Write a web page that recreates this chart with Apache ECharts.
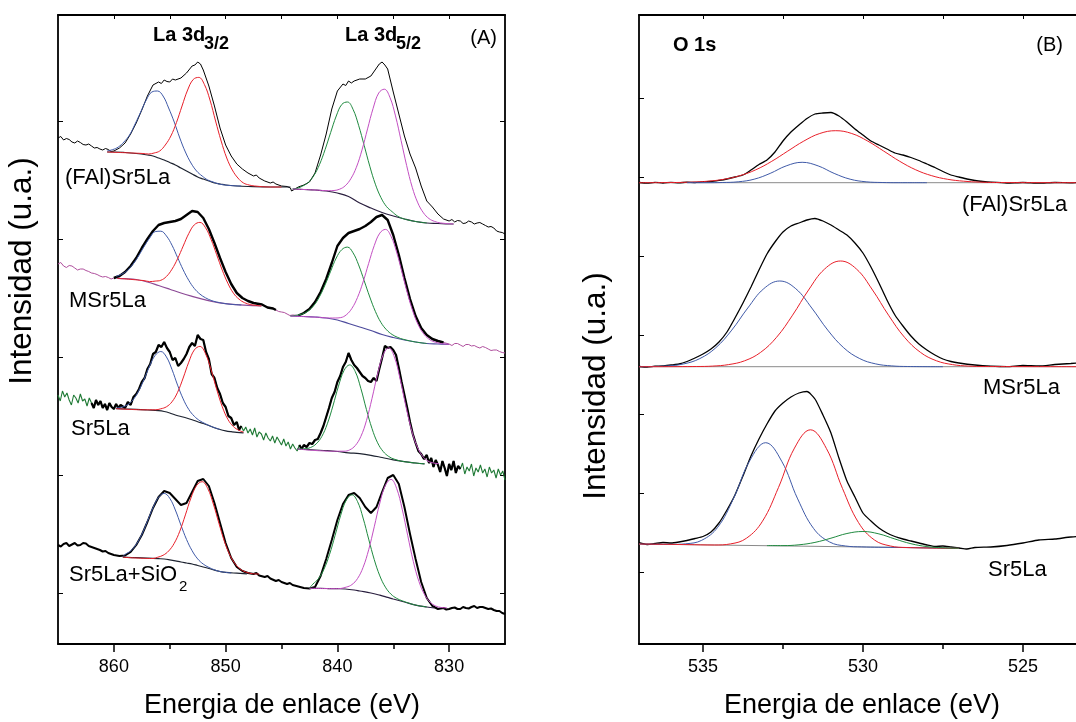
<!DOCTYPE html>
<html><head><meta charset="utf-8">
<script src="https://cdn.jsdelivr.net/npm/echarts@6/dist/echarts.min.js"></script>
<style>html,body{margin:0;padding:0;background:#fff}#c{width:1076px;height:722px}</style>
</head><body><div id="c"></div>
<script>
// ---------- ticks & labels ----------
const tickA_major = [830, 840, 850, 860];
const tickA_minor = [835, 845, 855];
const tickA_all = [830, 835, 840, 845, 850, 855, 860];
const tickB_major = [535, 530, 525];
const tickB_minor = [532.5, 527.5];
const tickB_all = [535, 532.5, 530, 527.5, 525];
const labelsA = ['(FAl)Sr5La', 'MSr5La', 'Sr5La', 'Sr5La+SiO'];
const labelsB = ['(FAl)Sr5La', 'MSr5La', 'Sr5La'];

// ---------- Panel A : La 3d ----------
// (FAl)Sr5La
const fal_raw = [[865,506],[864.75,507.5],[864.5,504],[864.25,505.5],[864,504.5],[863.75,502],[863.5,501],[863.25,503],[863,501.5],[862.75,499.5],[862.5,499],[862.25,500],[862,498],[861.75,496],[861.5,496.5],[861.25,495],[861,494],[860.75,495.5],[860.5,494.5],[860.25,492.5],[860,493],[859.5,496],[859,501],[858.5,510],[858,521],[857.5,534],[857,548],[856.5,559],[856,562],[855.75,560.5],[855.5,564],[855.25,562.5],[855,562],[854.75,565],[854.5,564],[854,566],[853.5,571],[853,578],[852.75,579],[852.5,582],[852.25,580],[852,574],[851.5,558],[851,538],[850.5,516],[850,499],[849.5,488],[849,480],[848.5,475],[848,471],[847.5,468],[847.25,469],[847,466],[846.5,463],[846,461],[845.75,462],[845.5,460],[845,458],[844.5,457.5],[844.2,456],[844.1,453],[843.5,457],[843,459],[842.5,462],[842,471],[841.5,489],[841,510],[840.5,535],[840,553],[839.5,560],[839.25,558.5],[839,563],[838.75,561],[838.5,563],[838,565],[837.5,565],[837,568],[836.5,576],[836.25,580],[836,582],[835.75,579],[835.5,575],[835,552],[834.5,530],[834,508],[833.5,490],[833,476],[832.5,458],[832,443],[831.5,437],[831,430],[830.5,425],[830,423],[829.75,424.5],[829.5,422],[829.25,423.5],[829,423],[828.75,420.5],[828.5,421],[828.25,423],[828,422],[827.75,420],[827.5,421],[827.25,421.5],[827,420],[826.75,418.5],[826.5,417],[826.25,417.5],[826,416],[825.75,413],[825.5,412],[825.25,411.5],[825,410]];
const fal_bg1 = [[860.6,492],[860,492],[859,491.5],[858,490.5],[857,489],[856.5,488],[856,486],[855.5,484],[855,481.5],[854.5,479],[854,476],[853.5,473],[853,470],[852.5,467],[852,465],[851.5,463],[851,461],[850.5,460],[850,459],[849,458],[848,457.5],[846,457],[844.2,457]];
const fal_bg2 = [[844,455],[843,454.5],[842,454],[841,453],[840,451],[839,447.5],[838,441],[837,436],[836,431.5],[835,428],[834,425],[833,422.5],[832,421],[831,420.5],[830,420],[829.6,420]];
const fal_blue = [[860.6,493],[860.1,494.4],[859.6,497],[859.1,502],[858.6,509],[858.1,520],[857.6,532],[857.1,544],[856.6,552],[856.1,553],[855.6,548],[855.1,536],[854.6,522],[854.1,506],[853.6,492],[853.1,481],[852.6,473],[852.1,468],[851.6,464],[851.1,462],[850.6,460],[849.6,458.5],[848.6,458]];
const fal_red = [[860.6,492],[858.4,491],[857.4,490.5],[856.9,490],[856.4,491],[855.9,493],[855.4,499],[854.9,508],[854.4,521.5],[853.9,538],[853.4,554],[852.9,564.5],[852.4,566.6],[851.9,559.5],[851.4,544],[850.9,523],[850.4,503],[849.9,486],[849.4,474],[848.9,466],[848.4,461],[847.9,459],[847.4,458],[846,457],[845,457]];
const fal_green = [[844,455],[843.6,455.7],[843.1,458],[842.6,461.6],[842.1,468.5],[841.6,479.4],[841.1,494.4],[840.6,511.5],[840.1,528],[839.6,539.6],[839.1,542],[838.6,534.7],[838.1,518.7],[837.6,498.5],[837.1,477.8],[836.6,459.8],[836.1,446.4],[835.6,437.4],[835.1,432.3],[834.6,427.8],[834.1,425.3],[833.1,422.7],[832,421]];
const fal_mag = [[844,455],[842,454],[840.8,453.3],[840.3,453.5],[839.8,454.8],[839.3,458.2],[838.8,465.2],[838.3,476.7],[837.8,493.9],[837.3,515.1],[836.8,535.7],[836.3,551],[835.8,554.8],[835.3,546.7],[834.8,528.1],[834.3,503.5],[833.8,478.4],[833.3,456.7],[832.8,441.1],[832.3,431.2],[831.8,425.4],[831.3,422.6],[830.8,421.1],[829.6,420]];

// MSr5La
const ms_raw = [[865,380],[864.75,381.5],[864.5,378],[864.25,376.5],[864,378.5],[863.75,378],[863.5,376],[863.25,374],[863,375],[862.75,375],[862.5,373.5],[862.25,372.5],[862,371],[861.75,370.5],[861.5,369.5],[861.25,368],[861,367],[860.75,367.5],[860.5,366.5],[860.25,365],[860,366],[859.5,368],[859,372],[858.5,378],[858,386],[857.5,396],[857,405],[856.5,413],[856,419],[855.5,421],[855,422],[854.5,423],[854,425],[853.5,429],[853,433],[852.5,432],[852,426],[851.5,415],[851,401],[850.5,386],[850,372],[849.5,360],[849,351],[848.5,346],[848,343],[847.5,341],[847,340],[846.75,339.5],[846.5,338],[846.25,336.5],[846,336],[845.75,335.5],[845.5,334],[845.25,332.5],[845,332],[844.75,331.5],[844.5,330],[844.25,328.5],[844,329],[843.5,328.5],[843,331],[842.5,335],[842,342],[841.5,352],[841,365],[840.5,381],[840,398],[839.5,406],[839,411],[838.5,413],[838,415],[837.5,418],[837,422],[836.5,427],[836,429],[835.5,424],[835,409],[834.5,389],[834,366],[833.5,345],[833,328],[832.5,316],[832,309],[831.5,305],[831,303],[830.5,301.5],[830,300],[829.75,298.5],[829.5,300.5],[829.25,300.5],[829,299],[828.75,297.5],[828.5,299.5],[828.25,299.5],[828,298],[827.75,298.5],[827.5,297],[827.25,296],[827,297.5],[826.75,296.5],[826.5,295],[826.25,293.5],[826,294],[825.75,294],[825.5,292.5],[825.25,291.5],[825,291]];
const ms_bg1 = [[859.7,365.7],[859,365.3],[858,364.5],[857,362],[856,358.5],[855,354.8],[854,351],[853,347.7],[852,344.7],[851,342],[850,340.3],[849,339.3],[848,338.7],[846.8,338]];
const ms_bg2 = [[844.2,328],[843,327.5],[842,327],[841,326],[840,324],[839,320.5],[838,317],[837,313.5],[836,309.5],[835,306.5],[834,304],[833,302],[832,300.5],[831,300],[830,299.5]];
const ms_blue = [[859.8,367.7],[859.3,369.8],[858.8,373.5],[858.3,379.7],[857.8,387.9],[857.3,397.4],[856.8,406],[856.3,412.4],[855.8,412.8],[855.3,408.1],[854.8,398.8],[854.3,386.5],[853.8,374.2],[853.3,363.7],[852.8,355.5],[852.3,349.9],[851.8,346.2],[851.3,343.6],[850.8,342],[849.8,340],[848.6,339]];
const ms_red = [[859.7,365.7],[857.3,363.4],[856.8,362.4],[856.3,362.9],[855.8,363.7],[855.3,367.5],[854.8,374.8],[854.3,385.2],[853.8,397.9],[853.3,410.4],[852.8,419.2],[852.3,421.6],[851.8,416.3],[851.3,404.5],[850.8,389.3],[850.3,373.9],[849.8,360.7],[849.3,350.8],[848.8,344.8],[848.3,341.3],[847.8,339.5],[847.3,338.6],[846.8,338]];
const ms_green = [[844.2,328],[843.6,328.9],[843.1,330.2],[842.6,333.2],[842.1,338.6],[841.6,347.3],[841.1,359.2],[840.6,372.8],[840.1,386],[839.6,394.4],[839.1,396.9],[838.6,391.2],[838.1,379.1],[837.6,363.2],[837.1,347],[836.6,332.6],[836.1,321.5],[835.6,314.2],[835.1,309.5],[834.6,306.6],[834.1,304.7],[833,302],[832,300.5]];
const ms_mag = [[844.2,328],[841.7,326.7],[840.7,326],[840.2,326],[839.7,326.4],[839.2,329.2],[838.7,335.6],[838.2,346.5],[837.7,362],[837.2,380.6],[836.7,398.4],[836.2,410.9],[835.7,414.6],[835.2,407.7],[834.7,391.9],[834.2,370.9],[833.7,349.5],[833.2,331.2],[832.7,317.7],[832.2,309.1],[831.7,304.1],[831.2,301.7],[830.7,300.4],[830,299.5]];

// Sr5La
const sr_raw = [[865,249],[864.8,243],[864.6,253],[864.4,247],[864.2,251],[864,244],[863.8,239],[863.6,249],[863.4,246],[863.2,241],[863,250],[862.8,243],[862.6,245],[862.4,238],[862.2,246],[862,241],[861.8,236],[861.6,244],[861.4,239],[861.2,243],[861,236],[860.8,240],[860.6,234],[860.4,241],[860.2,237],[860,235],[859.8,240],[859.6,236],[859.4,239],[859.25,238],[859,236],[858.75,242],[858.5,239],[858.25,247],[858,250],[857.75,255],[857.5,262],[857.25,266],[857,275],[856.75,280],[856.5,290],[856.25,292],[856,299],[855.75,297],[855.5,302],[855.25,296],[855,292],[854.75,284],[854.5,286],[854.25,278],[854,281],[853.75,285],[853.5,290],[853.25,297],[853,301],[852.75,298],[852.5,309],[852.25,305],[852,304],[851.75,292],[851.5,285],[851.25,270],[851,266],[850.75,256],[850.5,250],[850.25,241],[850,237],[849.75,228],[849.5,226],[849.25,219],[849,222],[848.8,214],[848.6,218],[848.4,213],[848.2,217],[848,211],[847.8,215],[847.6,209],[847.4,216],[847.2,207],[847,212],[846.8,210],[846.6,204],[846.4,211],[846.2,206],[846,203],[845.8,208],[845.6,201],[845.4,207],[845.2,203],[845,199],[844.8,205],[844.6,198],[844.4,202],[844.2,195],[844,200],[843.8,196],[843.6,193],[843.4,199],[843.2,195],[843,199],[842.75,197],[842.5,201],[842.25,200],[842,204],[841.75,205],[841.5,211],[841.25,218],[841,227],[840.75,236],[840.5,246],[840.25,252],[840,262],[839.75,268],[839.5,277],[839.25,282],[839,291],[838.75,284],[838.5,279],[838.25,276],[838,272],[837.75,268],[837.5,266],[837.25,263],[837,262],[836.75,266],[836.5,263],[836.25,275],[836,286],[835.75,298],[835.5,296],[835.25,297],[835,294],[834.75,289],[834.5,276],[834.25,262],[834,249],[833.75,236],[833.5,222],[833.25,210],[833,201],[832.75,193],[832.5,190],[832.25,185],[832,189],[831.8,181],[831.6,186],[831.4,177],[831.2,184],[831,179],[830.8,172],[830.6,183],[830.4,176],[830.2,168],[830,180],[829.8,174],[829.6,183],[829.4,171],[829.2,178],[829,175],[828.8,181],[828.6,170],[828.4,177],[828.2,173],[828,180],[827.8,168],[827.6,176],[827.4,172],[827.2,179],[827,171],[826.8,175],[826.6,167],[826.4,177],[826.2,171],[826,174],[825.8,166],[825.6,175],[825.4,169],[825.2,173],[825,164]];
const sr_bg1 = [[859.8,235.4],[859,235],[858,234.6],[857,234],[856,233.3],[855.5,232.5],[855,231],[854.5,229],[854,227.5],[853.5,226],[853,224.3],[852.5,222.3],[852,220.5],[851.5,218.5],[851,216.3],[850.5,214.5],[850,213.2],[849.5,212.3],[849,211.6],[848.4,211.2]];
const sr_bg2 = [[843.6,195],[842,194],[840.9,193.3],[840,192.5],[839,191.2],[838,190.3],[837,188.7],[836,186.5],[835,184.2],[834,182.3],[833,181],[832.2,180.2]];
const sr_blue = [[859.8,235.9],[859.3,236.8],[858.8,239.1],[858.3,244],[857.8,252.7],[857.3,264.7],[856.8,278],[856.3,288.7],[855.8,292.5],[855.3,287.1],[854.8,274.5],[854.3,258.9],[853.8,245.1],[853.3,234.6],[852.8,227.7],[852.3,223.2],[851.8,220.2],[851.3,217.6],[850.5,214.5]];
const sr_red = [[859.8,235.4],[857.3,234.2],[856.3,234.2],[855.8,235.2],[855.3,237.2],[854.8,242.2],[854.3,251.7],[853.8,266],[853.3,281.8],[852.8,294.1],[852.3,297.6],[851.8,290.3],[851.3,274.1],[850.8,254.7],[850.3,237.3],[849.8,224.7],[849.3,217.4],[848.8,213.6],[848.4,211.9]];
const sr_green = [[843.6,195],[842.9,195.2],[842.4,196.5],[841.9,200.1],[841.4,207.4],[840.9,220.2],[840.4,238],[839.9,257.9],[839.4,273.6],[838.9,279.1],[838.4,272.4],[837.9,255.6],[837.4,234.5],[836.9,215.4],[836.4,201.2],[835.9,192.5],[835.4,187.5],[834.9,184.8],[834,182.3],[832.2,180.2]];
const sr_mag = [[843.6,195],[840.4,192.8],[839.4,192.8],[838.9,194.1],[838.4,198.4],[837.9,207.5],[837.4,223.3],[836.9,245.6],[836.4,270],[835.9,289.4],[835.4,296.1],[834.9,287.1],[834.4,265.7],[833.9,239.3],[833.4,215.5],[832.9,198.3],[832.4,188.2],[831.9,183],[831.4,181],[830.9,180.3]];

// Sr5La+SiO2
const si_raw = [[865,99],[864.75,97.5],[864.5,100],[864.25,101],[864,98],[863.75,99.5],[863.5,101],[863.25,98.5],[863,99],[862.75,101],[862.5,100.5],[862.25,98],[862,97],[861.75,96],[861.5,95],[861.25,94],[861,92.5],[860.75,93],[860.5,91],[860.25,90],[860,89],[859.5,88],[859,88.5],[858.5,92],[858,99],[857.5,109],[857,122],[856.5,136],[856,147],[855.5,153],[855,151],[854.5,145],[854,139],[853.5,141],[853,152],[852.5,163],[852,165],[851.5,158],[851,141],[850.5,121],[850,101],[849.5,86],[849,77],[848.5,73],[848,71],[847.5,70],[847.25,71],[847,68.5],[846.5,67],[846.25,68],[846,65.5],[845.5,63],[845.25,64],[845,62],[844.5,60],[844.25,61],[844,59],[843.5,57.5],[843,56],[842.5,55.5],[842,57],[841.5,68],[841,85],[840.5,104],[840,124],[839.5,140],[839,149],[838.5,151],[838,146],[837.5,137],[837,131],[836.5,137],[836,152],[835.5,166],[835,169],[834.5,160],[834,137],[833.5,110],[833,85],[832.5,62],[832,46],[831.5,38],[831,35],[830.5,36],[830.25,34.5],[830,35],[829.75,36],[829.5,36.5],[829.25,35],[829,35],[828.75,37],[828.5,36],[828.25,35.5],[828,37],[827.75,38],[827.5,36],[827.25,37],[827,37],[826.75,36],[826.5,35],[826.25,35.5],[826,34],[825.75,33],[825.5,33],[825.25,31],[825,30]];
const si_bg1 = [[859.2,86.8],[858,86.3],[857,85.8],[856,85.3],[855.5,85],[855,84.2],[854.5,83.2],[854,82],[853.5,81],[853,80],[852.5,78.5],[852,77],[851.5,75.5],[851,73.8],[850.5,72.5],[850,71.6],[849,70.8],[848.1,70.2]];
const si_bg2 = [[842.5,55.7],[841,55.5],[840,55.3],[839.3,55],[838.5,54],[838,53],[837,51],[836.2,48.8],[835.5,46.6],[835,45],[834,42],[833.1,39.2],[832,37],[831.3,36]];
const si_blue = [[859.2,87.5],[859,89.6],[858.5,93.1],[858,99.6],[857.5,109.6],[857,122.7],[856.5,136.3],[856,146.8],[855.5,150.6],[855,145.7],[854.5,134],[854,118.9],[853.5,104.6],[853,93.3],[852.5,85.1],[852,79.9],[851.5,76.6],[851,74.2],[850.5,72.5],[849.5,71]];
const si_red = [[859.2,86.8],[856.5,85.5],[856.1,86.7],[855.6,88.7],[855.1,93],[854.6,100.7],[854.1,112.8],[853.6,129.1],[853.1,146.1],[852.6,158.5],[852.1,162.3],[851.6,155.5],[851.1,140],[850.6,120.7],[850.1,102.3],[849.6,88.5],[849.1,79.5],[848.6,74.2],[848.1,71.6],[847.6,70.3],[847,70]];
const si_green = [[842.5,56],[842.2,59.8],[841.7,65.2],[841.2,74.8],[840.7,89.6],[840.2,108.8],[839.7,128.8],[839.2,144],[838.7,149.2],[838.2,142.5],[837.7,126],[837.2,104.9],[836.7,84.4],[836.2,68.1],[835.7,56.8],[835.2,49.8],[834.7,45.7],[834.2,43.2],[833.1,39.2],[832,37]];
const si_mag = [[842.5,55.7],[840,55.3],[839.2,56.9],[838.7,59.4],[838.2,65.4],[837.7,76.6],[837.2,94.2],[836.7,117.2],[836.2,141],[835.7,158.8],[835.2,164.6],[834.7,155.7],[834.2,134.8],[833.7,108.2],[833.2,82.3],[832.7,62.5],[832.2,49.4],[831.7,41.8],[831.2,38],[830.7,36.5],[830.2,36.2]];

// ---------- Panel B : O 1s ----------
const fb_raw = [[537,461.5],[536.75,460.8],[536.5,461.6],[536.25,461],[536,461.7],[535.75,461.2],[535.5,461.8],[535.25,461.5],[535,462.3],[534.75,462.5],[534.5,463.6],[534.25,465],[534,467],[533.75,469],[533.5,474],[533.25,479.5],[533,484],[532.75,492],[532.5,503],[532.25,512],[532,519],[531.75,525.5],[531.5,530],[531.25,531],[531,531.5],[530.75,528],[530.5,522],[530.25,515],[530,509],[529.75,503],[529.5,499],[529.25,495],[529,491],[528.75,489],[528.5,486.5],[528.25,483.5],[528,480],[527.75,476.5],[527.5,472.5],[527.25,469],[527,467],[526.75,465],[526.5,463.5],[526.25,462.5],[526,461.8],[525.5,461],[525,461.5],[524.5,460.8],[524,461.5],[523.5,461.2],[523,462],[522.5,461.5],[522,462]];
const fb_base = [[537,461.3],[522,461.3]];
const fb_red = [[537,461.3],[535.85,461.5],[535.35,461.9],[534.85,462.8],[534.35,464.7],[533.85,468.3],[533.35,474.2],[532.85,482.7],[532.35,492.9],[531.85,502.9],[531.35,510.5],[530.85,513.3],[530.35,510.5],[529.85,502.9],[529.35,492.9],[528.85,482.7],[528.35,474.2],[527.85,468.3],[527.35,464.7],[526.85,462.8],[526.35,461.9],[525.85,461.5],[522,461.3]];
const fb_blue = [[535.5,461.3],[534.9,461.3],[534.4,461.5],[533.9,462.2],[533.4,464.8],[532.9,470.6],[532.4,478.1],[531.9,481.7],[531.4,478.1],[530.9,470.6],[530.4,464.8],[529.9,462.2],[529.4,461.5],[528.9,461.3],[528,461.3]];

const mb_raw = [[537,277.5],[536.75,277],[536.5,277.8],[536.25,278],[536,279],[535.75,280],[535.5,282.5],[535.25,286],[535,290],[534.75,295],[534.5,302],[534.25,312],[534,326],[533.75,341],[533.5,357],[533.25,374],[533,390],[532.75,402],[532.5,412],[532.25,418],[532,421],[531.75,424],[531.5,425.5],[531.25,423],[531,419],[530.75,414],[530.5,409],[530.25,401],[530,391],[529.75,377],[529.5,361],[529.25,344],[529,329],[528.75,318],[528.5,308],[528.25,300],[528,294],[527.75,289],[527.5,285],[527.25,282.5],[527,281],[526.5,279],[526,277.8],[525.5,277.3],[525,278.5],[524.5,278],[524,279.5],[523.5,280.5],[523,281.5],[522.5,282],[522,282.5]];
const mb_base = [[537,277.3],[522,277.3]];
const mb_blue = [[537,277.3],[536.6,277.5],[536.1,278.1],[535.6,280.1],[535.1,285.4],[534.6,296.2],[534.1,313.9],[533.6,336],[533.1,355.3],[532.6,363],[532.1,355.3],[531.6,336],[531.1,313.9],[530.6,296.2],[530.1,285.4],[529.6,280.1],[529.1,278.1],[528.6,277.5],[527.5,277.3]];
const mb_red = [[537,277.3],[535.2,277.5],[534.7,277.9],[534.2,279.4],[533.7,283.2],[533.2,291.6],[532.7,306.7],[532.2,328.8],[531.7,354],[531.2,374.9],[530.7,383],[530.2,374.9],[529.7,354],[529.2,328.8],[528.7,306.7],[528.2,291.6],[527.7,283.2],[527.2,279.4],[526.7,277.9],[526.2,277.5],[522,277.3]];

const sb_raw = [[537,101.3],[536.75,99.5],[536.5,100.5],[536.25,101.5],[536,101],[535.75,102],[535.5,103.5],[535.25,105.5],[535,107.5],[534.75,112],[534.5,121],[534.25,134],[534,149],[533.75,168],[533.5,188],[533.25,205],[533,220],[532.75,233],[532.5,241],[532.25,247],[532,251],[531.75,252.5],[531.5,245],[531.25,229],[531,211],[530.75,186],[530.5,163],[530.25,147],[530,131],[529.75,123],[529.5,116],[529.25,111],[529,107.5],[528.75,105],[528.5,103],[528.25,101],[528,99],[527.75,97.5],[527.5,98],[527.25,97],[527,96],[526.75,95],[526.5,96.5],[526,97],[525.5,98.5],[525,101],[524.5,104],[524,105],[523.5,107],[523,108],[522.5,107.5],[522,108.5]];
const sb_base = [[537,100],[526.9,95.7]];
const sb_blue = [[537,100],[536,99.6],[535.54,100.2],[535.04,103.7],[534.54,116.7],[534.04,145.9],[533.54,183.2],[533.04,201.3],[532.54,182.8],[532.04,145.1],[531.54,115.4],[531.04,102],[530.54,98],[530.04,97.1],[529,96.6],[527,95.7]];
const sb_red = [[537,100],[535.5,99.4],[534.64,99],[534.14,100.1],[533.64,105.8],[533.14,122.8],[532.64,156.5],[532.14,195.9],[531.64,214.2],[531.14,195.4],[530.64,155.6],[530.14,121.5],[529.64,104],[529.14,98],[528.64,96.5],[527,95.7]];
const sb_green = [[533,98.4],[532.5,98.4],[532,99.2],[531.5,101.6],[531,105.8],[530.5,110.5],[530,112.5],[529.5,110.1],[529,105],[528.5,100.3],[528,97.4],[527.5,96.2],[527,95.7]];

// ---------- chart ----------
const FONT = '"Liberation Sans", Arial, sans-serif';
const BLUE = '#3f5aa8', RED = '#e8202a', GREEN = '#1f8a3f', MAG = '#c34fc3', BGC = '#1d2330';

function ln(data, color, width, xi, yi, smooth) {
  return { type: 'line', data: data, xAxisIndex: xi, yAxisIndex: yi, showSymbol: false, symbol: 'none',
    smooth: smooth || false,
    lineStyle: { color: color, width: width }, animation: false, silent: true, clip: true };
}
// fitted components and backgrounds: drawn as smooth curves
function fit(data, color, width, xi, yi) { return ln(data, color, width, xi, yi, 0.4); }
function part(data, hi, lo) { return data.filter(p => p[0] <= hi && p[0] >= lo); }

function xAxes(g, min, max, majors, minors, all) {
  const base = { gridIndex: g, type: 'value', min: min, max: max, inverse: true, splitLine: { show: false } };
  return [
    Object.assign({}, base, { position: 'bottom',
      axisLine: { show: true, onZero: false, lineStyle: { color: '#000', width: 1.8 } },
      axisTick: { show: true, inside: false, length: 8, lineStyle: { color: '#000', width: 1.5 }, customValues: majors },
      axisLabel: { show: true, customValues: majors, color: '#000', fontSize: 18, fontFamily: FONT, margin: 14 } }),
    Object.assign({}, base, { position: 'bottom',
      axisLine: { show: false },
      axisTick: { show: true, inside: false, length: 5, lineStyle: { color: '#000', width: 1.5 }, customValues: minors },
      axisLabel: { show: false } }),
    Object.assign({}, base, { position: 'top',
      axisLine: { show: true, onZero: false, lineStyle: { color: '#000', width: 1.8 } },
      axisTick: { show: true, inside: true, length: 4, lineStyle: { color: '#000', width: 1 }, customValues: all },
      axisLabel: { show: false } })
  ];
}
function yAxes(g, ticks, showRight) {
  const base = { gridIndex: g, type: 'value', min: 0, max: 629, splitLine: { show: false }, axisLabel: { show: false } };
  return [
    Object.assign({}, base, { position: 'left',
      axisLine: { show: true, onZero: false, lineStyle: { color: '#000', width: 1.8 } },
      axisTick: { show: true, inside: true, length: 5, lineStyle: { color: '#000', width: 1 }, customValues: ticks } }),
    Object.assign({}, base, { position: 'right',
      axisLine: { show: showRight, onZero: false, lineStyle: { color: '#000', width: 1.8 } },
      axisTick: { show: showRight, inside: true, length: 5, lineStyle: { color: '#000', width: 1 }, customValues: ticks } })
  ];
}

const series = [
  // A : (FAl)Sr5La
  ln(fal_raw, '#000', 1, 0, 0),
  fit(fal_bg1, BGC, 1.2, 0, 0), fit(fal_bg2, '#2a1f3f', 1.2, 0, 0),
  fit(fal_blue, BLUE, 1, 0, 0), fit(fal_red, RED, 1, 0, 0), fit(fal_green, GREEN, 1, 0, 0), fit(fal_mag, MAG, 1, 0, 0),
  // A : MSr5La
  ln(ms_raw, '#b0509e', 1, 0, 0),
  ln(part(ms_raw, 860, 845.5), '#000', 2.4, 0, 0), ln(part(ms_raw, 843.5, 830.5), '#000', 2.4, 0, 0),
  fit(ms_bg1, '#8c4a96', 1.2, 0, 0), fit(ms_bg2, '#4c4a9c', 1.2, 0, 0),
  fit(ms_blue, BLUE, 1, 0, 0), fit(ms_red, RED, 1, 0, 0), fit(ms_green, GREEN, 1, 0, 0), fit(ms_mag, MAG, 1, 0, 0),
  // A : Sr5La
  ln(sr_raw, '#1f7a35', 1.1, 0, 0),
  ln(part(sr_raw, 862, 848.5), '#000', 2.2, 0, 0), ln(part(sr_raw, 843.5, 829), '#000', 2.2, 0, 0),
  fit(sr_bg1, BGC, 1.2, 0, 0), fit(sr_bg2, BGC, 1.2, 0, 0),
  fit(sr_blue, BLUE, 1, 0, 0), fit(sr_red, RED, 1, 0, 0), fit(sr_green, GREEN, 1, 0, 0), fit(sr_mag, MAG, 1, 0, 0),
  // A : Sr5La+SiO2
  ln(si_raw, '#000', 2, 0, 0),
  fit(si_bg1, BGC, 1.2, 0, 0), fit(si_bg2, '#2a1f3f', 1.2, 0, 0),
  fit(si_blue, BLUE, 1, 0, 0), fit(si_red, RED, 1, 0, 0), fit(si_green, GREEN, 1, 0, 0), fit(si_mag, MAG, 1, 0, 0),
  // B
  ln(fb_base, '#8a8a8a', 1, 3, 2), ln(fb_raw, '#000', 1.3, 3, 2, 0.2), fit(fb_red, RED, 1, 3, 2), fit(fb_blue, BLUE, 1, 3, 2),
  ln(mb_base, '#8a8a8a', 1, 3, 2), ln(mb_raw, '#000', 1.3, 3, 2, 0.2), fit(mb_blue, BLUE, 1, 3, 2), fit(mb_red, RED, 1, 3, 2),
  ln(sb_base, '#8a8a8a', 1, 3, 2), ln(sb_raw, '#000', 1.3, 3, 2, 0.2), fit(sb_blue, BLUE, 1, 3, 2), fit(sb_red, RED, 1, 3, 2), fit(sb_green, GREEN, 1, 3, 2)
];

function txt(text, x, y, size, opts) {
  opts = opts || {};
  return { type: 'text', x: x, y: y, rotation: opts.rot || 0, silent: true, z: 100,
    style: { text: text, font: (opts.bold ? 'bold ' : '') + size + 'px ' + FONT, fill: '#000',
      align: opts.align || 'left', verticalAlign: 'middle', textAlign: opts.align || 'left', textVerticalAlign: 'middle' } };
}

const graphic = [
  txt('La 3d', 153, 35, 20, { bold: true }), txt('3/2', 204, 44, 18, { bold: true }),
  txt('La 3d', 345, 35, 20, { bold: true }), txt('5/2', 396, 44, 18, { bold: true }),
  txt('(A)', 497, 38, 20, { align: 'right' }),
  txt(labelsA[0], 65, 178, 22), txt(labelsA[1], 69, 301, 22), txt(labelsA[2], 71, 429, 22),
  txt(labelsA[3], 69, 575, 22), txt('2', 179, 587, 15),
  txt('O 1s', 673, 45, 20, { bold: true }), txt('(B)', 1063, 45, 20, { align: 'right' }),
  txt(labelsB[0], 962, 205, 22), txt(labelsB[1], 983, 388, 22), txt(labelsB[2], 988, 570, 22),
  txt('Energia de enlace (eV)', 282, 706, 27, { align: 'center' }),
  txt('Energia de enlace (eV)', 862, 706, 27, { align: 'center' }),
  txt('Intensidad (u.a.)', 22, 271, 31.5, { align: 'center', rot: Math.PI / 2 }),
  txt('Intensidad (u.a.)', 596, 386, 31.5, { align: 'center', rot: Math.PI / 2 })
];

const chart = echarts.init(document.getElementById('c'), null, { renderer: 'canvas' });
chart.setOption({
  backgroundColor: '#fff',
  animation: false,
  grid: [
    { left: 58, top: 15, width: 447, height: 629 },
    { left: 639, top: 15, width: 437, height: 629 }
  ],
  xAxis: [].concat(xAxes(0, 825, 865, tickA_major, tickA_minor, tickA_all),
                   xAxes(1, 523.34, 537, tickB_major, tickB_minor, tickB_all)),
  yAxis: [].concat(yAxes(0, [51, 169, 287, 405, 523], true), yAxes(1, [72, 151, 230, 309, 388, 467, 546], false)),
  series: series,
  graphic: graphic
});
</script></body></html>
